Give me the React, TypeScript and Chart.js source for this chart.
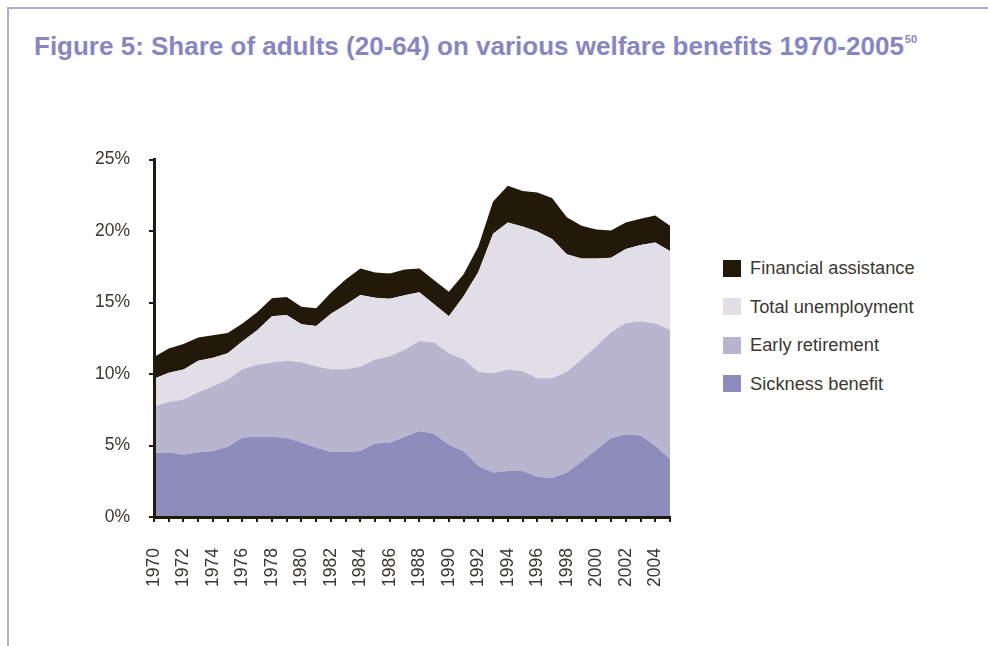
import { useEffect, useRef } from 'react';
import { Chart, registerables } from 'chart.js';

Chart.register(...registerables);

const years = [
  '1970', '1971', '1972', '1973', '1974', '1975', '1976', '1977', '1978', '1979',
  '1980', '1981', '1982', '1983', '1984', '1985', '1986', '1987', '1988', '1989',
  '1990', '1991', '1992', '1993', '1994', '1995', '1996', '1997', '1998', '1999',
  '2000', '2001', '2002', '2003', '2004', '2005',
];

const xTickLabels = [
  '1970', '1972', '1974', '1976', '1978', '1980', '1982', '1984', '1986',
  '1988', '1990', '1992', '1994', '1996', '1998', '2000', '2002', '2004',
];

const yTickValues = [0, 5, 10, 15, 20, 25];

const sicknessBenefit = [
  4.45, 4.52, 4.35, 4.52, 4.61, 4.91, 5.56, 5.63, 5.61, 5.52,
  5.21, 4.84, 4.54, 4.54, 4.61, 5.14, 5.21, 5.6, 6.01, 5.82,
  5.05, 4.59, 3.56, 3.12, 3.21, 3.21, 2.82, 2.72, 3.12, 3.86,
  4.7, 5.52, 5.77, 5.7, 4.98, 4.05,
];

const earlyRetirement = [
  3.3, 3.53, 3.87, 4.21, 4.54, 4.7, 4.78, 5.01, 5.19, 5.4,
  5.61, 5.68, 5.8, 5.8, 5.89, 5.87, 6.03, 6.1, 6.3, 6.38,
  6.4, 6.44, 6.59, 6.94, 7.1, 6.99, 6.89, 6.99, 7.03, 7.15,
  7.24, 7.4, 7.8, 7.99, 8.55, 9.06,
];

const totalUnemployment = [
  1.91, 2.03, 2.09, 2.19, 1.98, 1.84, 1.95, 2.42, 3.24, 3.21,
  2.66, 2.84, 3.88, 4.51, 5.02, 4.33, 4.03, 3.8, 3.4, 2.67,
  2.59, 4.4, 6.98, 9.75, 10.29, 10.12, 10.26, 9.73, 8.22, 7.06,
  6.13, 5.21, 5.17, 5.33, 5.67, 5.49,
];

const financialAssistance = [
  1.53, 1.7, 1.79, 1.63, 1.58, 1.42, 1.24, 1.26, 1.25, 1.25,
  1.23, 1.23, 1.47, 1.75, 1.85, 1.75, 1.75, 1.8, 1.66, 1.68,
  1.72, 1.54, 1.79, 2.26, 2.56, 2.47, 2.73, 2.86, 2.6, 2.3,
  2.04, 1.91, 1.86, 1.84, 1.89, 1.77,
];

const seriesNames = ['Sickness benefit', 'Early retirement', 'Total unemployment', 'Financial assistance'];
const seriesColors = ['#8e8bbd', '#bab5cf', '#e1dee7', '#22190b'];
const seriesData = [sicknessBenefit, earlyRetirement, totalUnemployment, financialAssistance];

const FONT = '"Liberation Sans", Arial, Helvetica, sans-serif';
const AXIS = '#231a0e';
const TEXT = '#3b3733';

export default function App() {
  const canvasRef = useRef<HTMLCanvasElement | null>(null);

  useEffect(() => {
    const canvas = canvasRef.current;
    if (!canvas) return;
    const chart = new Chart(canvas, {
      type: 'line',
      data: {
        labels: years,
        datasets: seriesData.map((d, i) => ({
          label: seriesNames[i],
          data: d,
          backgroundColor: seriesColors[i],
          borderColor: seriesColors[i],
          borderWidth: 0,
          pointRadius: 0,
          pointHoverRadius: 0,
          tension: 0,
          fill: i === 0 ? 'origin' : '-1',
        })),
      },
      options: {
        animation: false,
        responsive: false,
        devicePixelRatio: 1,
        events: [],
        layout: { padding: { top: 19.5, right: 30, bottom: 0, left: 0 } },
        plugins: {
          legend: { display: false },
          title: { display: false },
          tooltip: { enabled: false },
        },
        scales: {
          x: {
            offset: false,
            grid: {
              drawOnChartArea: false,
              drawTicks: true,
              tickLength: 5,
              color: AXIS,
              lineWidth: 2,
            },
            border: { display: true, color: AXIS, width: 3, z: 1 },
            ticks: {
              autoSkip: false,
              maxRotation: 90,
              minRotation: 90,
              padding: 26,
              color: TEXT,
              font: { family: FONT, size: 17.5 },
              callback: function (this: any, value: any) {
                const label = this.getLabelForValue(value);
                return xTickLabels.includes(label) ? label : '';
              },
            },
            afterFit: (scale: any) => {
              scale.height = 103;
              scale.paddingLeft = 0;
              scale.paddingRight = 0;
              scale.paddingTop = 0;
              scale.paddingBottom = 0;
            },
          },
          y: {
            stacked: true,
            min: 0,
            max: 25,
            grid: {
              drawOnChartArea: false,
              drawTicks: true,
              tickLength: 5,
              color: AXIS,
              lineWidth: 2,
            },
            border: { display: true, color: AXIS, width: 3, z: 1 },
            afterBuildTicks: (scale: any) => {
              scale.ticks = yTickValues.map((v) => ({ value: v }));
            },
            ticks: {
              padding: 19,
              color: TEXT,
              font: { family: FONT, size: 17.5 },
              callback: (v: any) => `${v}%`,
            },
            afterFit: (scale: any) => {
              scale.width = 94;
              scale.paddingLeft = 0;
              scale.paddingRight = 0;
              scale.paddingTop = 0;
              scale.paddingBottom = 0;
            },
          },
        },
      },
    });
    return () => chart.destroy();
  }, []);

  const legendOrder = [3, 2, 1, 0];

  return (
    <div
      style={{
        position: 'absolute',
        left: 0,
        top: 0,
        width: 988,
        height: 646,
        overflow: 'hidden',
        background: '#ffffff',
        fontFamily: FONT,
      }}
    >
      <div style={{ position: 'absolute', left: 7, top: 7, width: 981, height: 2, background: '#aeacd4' }} />
      <div style={{ position: 'absolute', left: 7, top: 7, width: 2, height: 639, background: '#aeacd4' }} />
      <div
        style={{
          position: 'absolute',
          left: 34,
          top: 31,
          fontSize: 26,
          fontWeight: 'bold',
          color: '#8886c0',
          whiteSpace: 'nowrap',
          lineHeight: 'normal',
        }}
      >
        Figure 5: Share of adults (20-64) on various welfare benefits 1970-2005
        <span style={{ fontSize: 11, position: 'relative', top: -12, marginLeft: 1 }}>50</span>
      </div>
      <canvas
        ref={canvasRef}
        width={640}
        height={480}
        style={{ position: 'absolute', left: 60, top: 140, width: 640, height: 480 }}
      />
      {legendOrder.map((idx, row) => (
        <div
          key={seriesNames[idx]}
          style={{
            position: 'absolute',
            left: 723,
            top: 259 + row * 38.6,
            height: 18,
            display: 'flex',
            alignItems: 'center',
            whiteSpace: 'nowrap',
          }}
        >
          <div style={{ width: 18, height: 17, background: seriesColors[idx] }} />
          <span style={{ marginLeft: 9, fontSize: 18.3, color: TEXT }}>{seriesNames[idx]}</span>
        </div>
      ))}
    </div>
  );
}
